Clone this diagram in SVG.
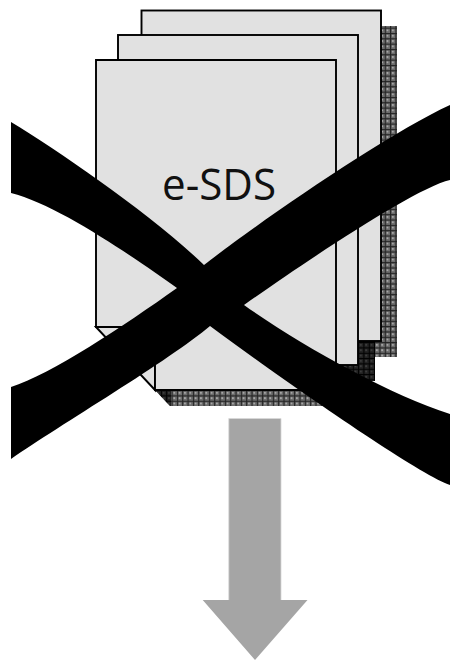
<svg xmlns="http://www.w3.org/2000/svg" width="450" height="661" viewBox="0 0 450 661">
<style>
.page{fill:#e1e1e1;stroke:#000;stroke-width:1.9;stroke-linejoin:miter}
.mid{fill:url(#gridMid)}
.dark{fill:url(#gridDark)}
.x{fill:#000}
.label{font-family:"Open Sans","Noto Sans",sans-serif;font-size:43px;fill:#111}
</style>
<defs>
<pattern id="gridMid" width="5.33" height="5.33" patternUnits="userSpaceOnUse" x="1" y="1">
<rect width="5.33" height="5.33" fill="#6c6c6c"/>
<rect x="1.8" y="1.8" width="1.8" height="1.8" fill="#a8a8a8"/>
<rect x="0" y="0" width="5.33" height="1.1" fill="#222"/>
<rect x="0" y="0" width="1.1" height="5.33" fill="#222"/>
</pattern>
<pattern id="gridDark" width="5.33" height="5.33" patternUnits="userSpaceOnUse" x="1" y="1">
<rect width="5.33" height="5.33" fill="#222"/>
<rect x="1.8" y="1.8" width="1.8" height="1.8" fill="#3c3c3c"/>
<rect x="0" y="0" width="5.33" height="1" fill="#000"/>
<rect x="0" y="0" width="1" height="5.33" fill="#000"/>
</pattern>
</defs>
<g id="shadows">
<path class="mid" d="M381 26H397V357H358V341H381Z"/>
<path class="dark" d="M358 341H375V381H336V365H358Z"/>
<path class="mid" d="M155 390H352V406H170Z"/>
<path class="dark" d="M155 390H171V406H170Z"/>
</g>
<g id="page-back"><rect class="page" x="141.5" y="10.5" width="239.5" height="330.5"/></g>
<g id="page-middle"><rect class="page" x="118" y="35" width="240" height="330"/></g>
<g id="page-front">
<path class="page" d="M96 327L155 390V327Z"/>
<path class="page" d="M96 60H336V390H155V327H96Z"/>
<text class="label" x="162" y="200" textLength="114" lengthAdjust="spacingAndGlyphs">e-SDS</text>
</g>
<g id="connectors">
<path class="x" id="cross" d="M11 122C60 152 150 213 204 265C255 225 385 135 450 105V180C415 188 305 262 244 305C300 345 390 395 450 414V485C420 475 290 385 210 326C170 360 60 425 11 459V387C50 375 125 325 177 288C140 262 60 205 11 193Z"/>
</g>
<g id="arrow"><path d="M228.8 418.5H281V600H307.5L255 660L202.7 600H228.8Z" fill="#a5a5a5"/><path d="M228.8 600V418.5H281V600" fill="none" stroke="#d8d8d8" stroke-width="0.8"/></g>
</svg>
